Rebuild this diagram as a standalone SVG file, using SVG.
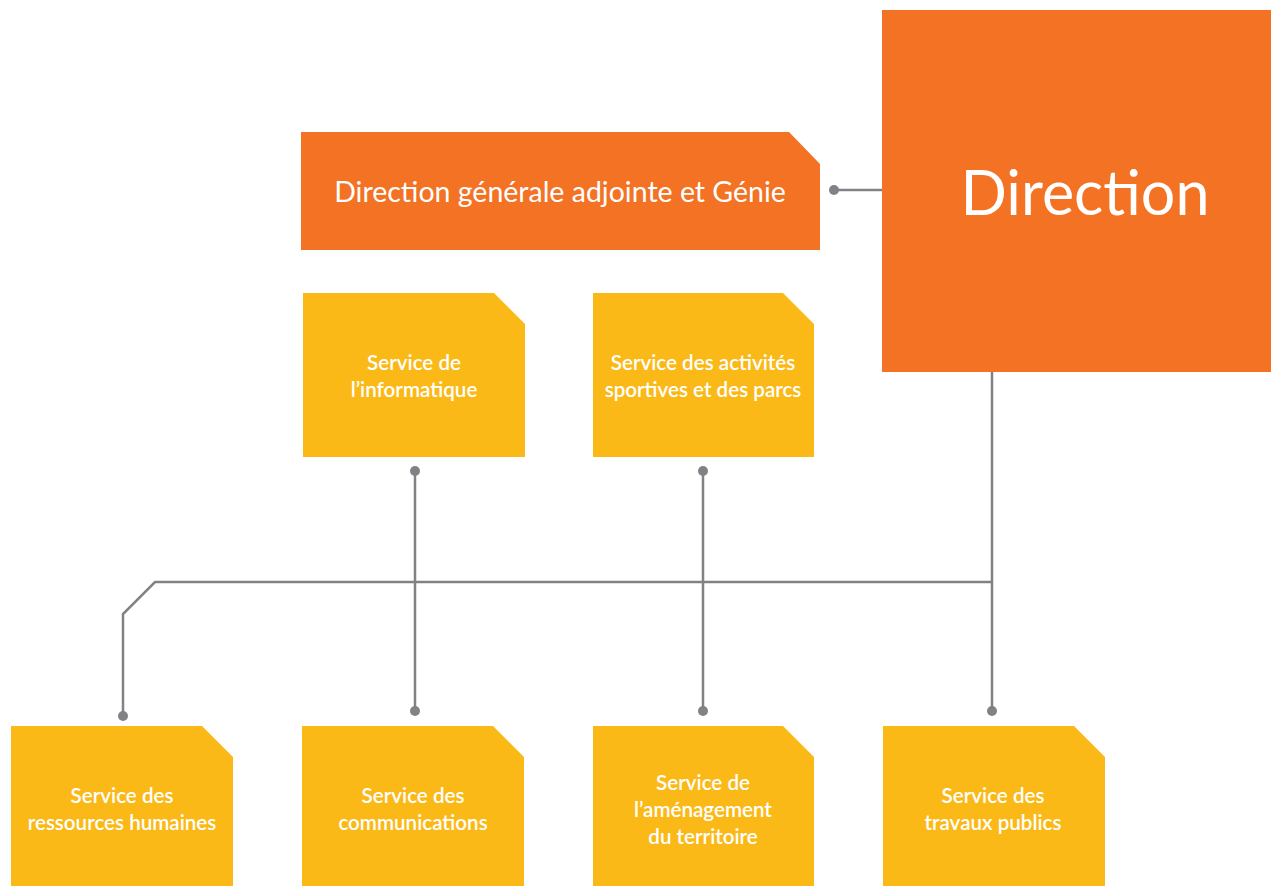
<svg xmlns="http://www.w3.org/2000/svg" width="1271" height="886" viewBox="0 0 1271 886">
<style>
.orange{fill:#F37224}
.yellow{fill:#FBB917}
.t{fill:#fff;font-family:Lato,"Open Sans",sans-serif;text-anchor:middle}
.svc{font-size:20.6px;font-weight:600}
.ln{stroke:#808285;stroke-width:2.5;fill:none}
.dot{fill:#808285}
</style>
<rect width="1271" height="886" fill="#fff"/>
<g id="connectors">
<path class="ln" d="M834,190 H882"/>
<path class="ln" d="M992,372 V711"/>
<path class="ln" d="M992,582 H155 L123,614 V716"/>
<path class="ln" d="M415,471 V711"/>
<path class="ln" d="M703,471 V711"/>
<circle class="dot" cx="834" cy="190" r="5"/>
<circle class="dot" cx="992" cy="711" r="5"/>
<circle class="dot" cx="123" cy="716" r="5"/>
<circle class="dot" cx="415" cy="471" r="5"/>
<circle class="dot" cx="415" cy="711" r="5"/>
<circle class="dot" cx="703" cy="471" r="5"/>
<circle class="dot" cx="703" cy="711" r="5"/>
</g>
<g id="direction">
<rect class="orange" x="882" y="10" width="389" height="362"/>
<text class="t" x="1085" y="215" font-size="61">Direction</text>
</g>
<g id="dga">
<path class="orange" d="M301,132 H789 L820,164 V250 H301 Z"/>
<text class="t" x="560" y="202" font-size="28.5">Direction générale adjointe et Génie</text>
</g>
<g id="informatique">
<path class="yellow" d="M303,293 H494 L525,324 V457 H303 Z"/>
<text class="t svc" x="414" y="370">Service de</text>
<text class="t svc" x="414" y="397">l’informatique</text>
</g>
<g id="activites">
<path class="yellow" d="M593,293 H783 L814,324 V457 H593 Z"/>
<text class="t svc" x="703" y="370">Service des activités</text>
<text class="t svc" x="703" y="397">sportives et des parcs</text>
</g>
<g id="rh">
<path class="yellow" d="M11,726 H202 L233,757 V886 H11 Z"/>
<text class="t svc" x="122" y="803">Service des</text>
<text class="t svc" x="122" y="830">ressources humaines</text>
</g>
<g id="communications">
<path class="yellow" d="M302,726 H493 L524,757 V886 H302 Z"/>
<text class="t svc" x="413" y="803">Service des</text>
<text class="t svc" x="413" y="830">communications</text>
</g>
<g id="amenagement">
<path class="yellow" d="M593,726 H783 L814,757 V886 H593 Z"/>
<text class="t svc" x="703" y="790">Service de</text>
<text class="t svc" x="703" y="817">l’aménagement</text>
<text class="t svc" x="703" y="844">du territoire</text>
</g>
<g id="travaux">
<path class="yellow" d="M883,726 H1074 L1105,757 V886 H883 Z"/>
<text class="t svc" x="993" y="803">Service des</text>
<text class="t svc" x="993" y="830">travaux publics</text>
</g>
</svg>
